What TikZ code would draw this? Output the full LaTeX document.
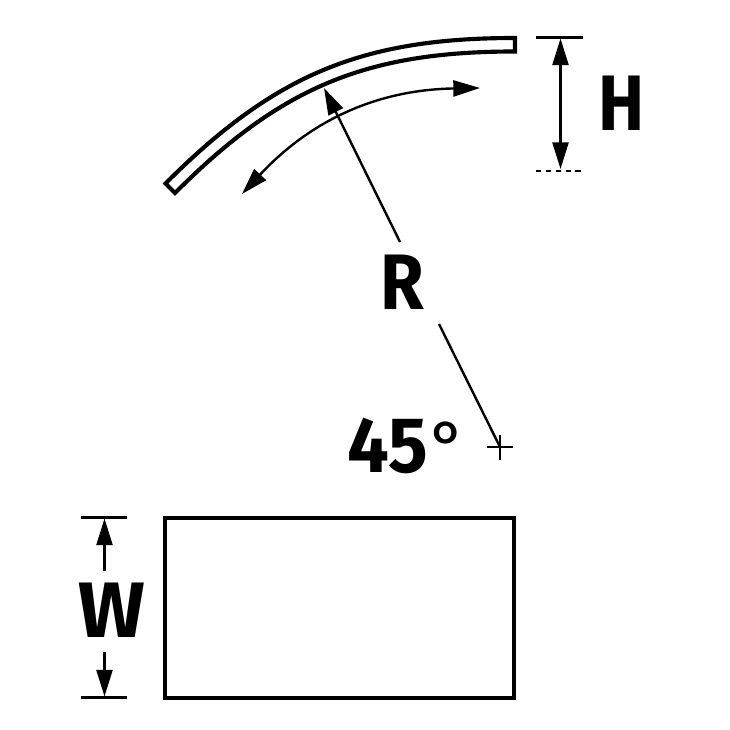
\documentclass[tikz,border=0pt]{standalone}
\usepackage{fontspec}
\setmainfont{Fira Sans}
\usetikzlibrary{arrows.meta}
\tikzset{
	outline/.style={line width=3.1pt,line join=miter},
	dimline/.style={line width=1.8pt,-{Triangle[length=20pt,width=12pt]}},
	dimboth/.style={line width=1.8pt,{Triangle[length=20pt,width=12pt]}-{Triangle[length=20pt,width=12pt]}},
	extline/.style={line width=1.8pt},
	biglabel/.style={font=\fontsize{59}{59}\selectfont\bfseries,inner sep=0pt},
}

\begin{document}
\begin{tikzpicture}[x=0.75pt,y=0.75pt,yscale=-1,xscale=1]
	\useasboundingbox (0,0) rectangle (730,730);

	%Bent strip
	\draw [outline] (515,38) .. controls (362,38) and (274.6,74.4) .. (165.5,183.5)
		-- (175,193) .. controls (281,86.9) and (366,51.5) .. (515,51.5) -- cycle;

	%Rectangle
	\draw [outline] (165,518) rectangle (514,698);

	% Text Node
	\node [biglabel] (labH) at (621.5,103) {\scalebox{.88}[1]{H}};
	% Text Node
	\node [biglabel] (labR) at (402,282) {\scalebox{.9}[1]{R}};
	% Text Node
	\node [biglabel] (labW) at (112,610.5) {W};
	% Text Node
	\node [biglabel,anchor=west] (lab45) at (347,446) {\scalebox{.94}[1]{45}\hspace{2pt}\raisebox{1.5pt}{\mdseries\fontsize{52}{52}\selectfont °}};

	%Arc length
	\coordinate (arcA) at (242,194);
	\coordinate (arcB) at (480,88);
	\draw [dimboth] (arcA) to [bend right=23] (arcB);

	%Radius
	\coordinate (radTip) at (324,88);
	\coordinate (radIn) at (400,242);
	\coordinate (radOut) at (439,324);
	\coordinate (radC) at (500,447);
	\draw [dimline] (radIn) -- (radTip);
	\draw [extline] (radOut) -- (radC);
	\draw [extline] (487,447) -- (513,447) (500,435) -- (500,460);

	%Height
	\coordinate (hTopL) at (536,37.5);
	\coordinate (hTopR) at (583,37.5);
	\coordinate (hBotL) at (536,171);
	\coordinate (hBotR) at (583,171);
	\draw [extline] (hTopL) -- (hTopR);
	\draw [extline,dash pattern=on 4pt off 3.4pt] (hBotL) -- (hBotR);
	\draw [dimboth] (560.5,38.5) -- (560.5,169);

	%Width
	\coordinate (wTopL) at (81,517.5);
	\coordinate (wTopR) at (127,517.5);
	\coordinate (wBotL) at (81,697.5);
	\coordinate (wBotR) at (127,697.5);
	\draw [extline] (wTopL) -- (wTopR);
	\draw [extline] (wBotL) -- (wBotR);
	\draw [dimline] (104.5,571) -- (104.5,518.5);
	\draw [dimline] (104.5,652) -- (104.5,696.5);
\end{tikzpicture}
\end{document}
